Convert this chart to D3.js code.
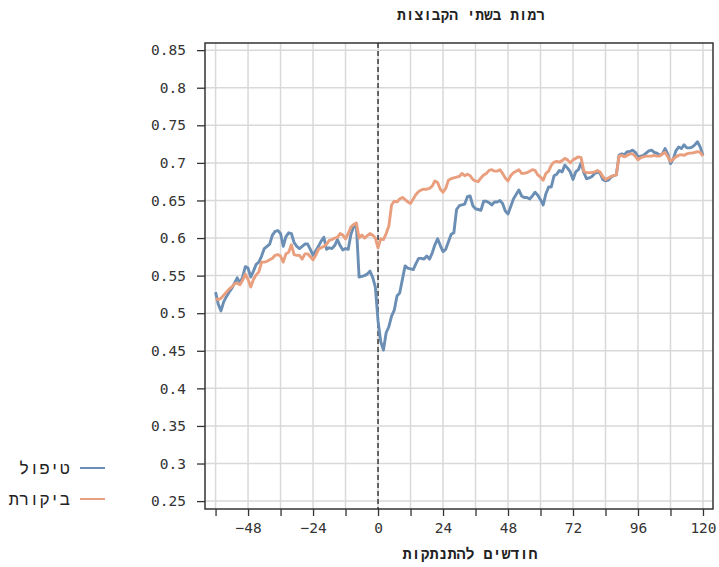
<!DOCTYPE html>
<html>
<head>
<meta charset="utf-8">
<script src="https://cdn.jsdelivr.net/npm/d3@7"></script>
<style>
  body { margin: 0; background: #fff; }
  text { font-family: "DejaVu Sans Mono", monospace; fill: #333; }
  text.heb { font-family: "Liberation Mono", "DejaVu Sans Mono", monospace; fill: #222; }
</style>
</head>
<body>
<div id="chart"></div>
<script>
// months relative to disconnection: -60 .. 120
var startMonth = -60
var treatment = [
  0.528, 0.512, 0.503, 0.515, 0.522, 0.528, 0.533, 0.540, 0.547, 0.540,
  0.548, 0.562, 0.560, 0.548, 0.556, 0.565, 0.568, 0.576, 0.586, 0.589,
  0.592, 0.604, 0.609, 0.610, 0.606, 0.589, 0.602, 0.607, 0.606, 0.594,
  0.589, 0.586, 0.589, 0.592, 0.592, 0.585, 0.577, 0.583, 0.589, 0.596,
  0.601, 0.585, 0.587, 0.586, 0.590, 0.598, 0.590, 0.584, 0.586, 0.585,
  0.605, 0.615, 0.617, 0.548, 0.549, 0.550, 0.552, 0.556, 0.548, 0.535,
  0.490, 0.462, 0.451, 0.474, 0.482, 0.496, 0.504, 0.523, 0.527, 0.545,
  0.563, 0.560, 0.559, 0.558, 0.566, 0.573, 0.573, 0.572, 0.576, 0.572,
  0.580, 0.591, 0.599, 0.590, 0.582, 0.585, 0.595, 0.605, 0.607, 0.638,
  0.643, 0.644, 0.645, 0.655, 0.656, 0.643, 0.639, 0.638, 0.637, 0.649,
  0.649, 0.647, 0.644, 0.648, 0.648, 0.650, 0.646, 0.636, 0.632, 0.642,
  0.652, 0.658, 0.664, 0.656, 0.654, 0.654, 0.652, 0.656, 0.661, 0.657,
  0.651, 0.644, 0.659, 0.668, 0.668, 0.683, 0.685, 0.690, 0.688, 0.697,
  0.693, 0.688, 0.678, 0.688, 0.691, 0.700, 0.687, 0.679, 0.680, 0.682,
  0.686, 0.688, 0.686, 0.678, 0.676, 0.677, 0.681, 0.683, 0.684, 0.710,
  0.712, 0.711, 0.715, 0.715, 0.717, 0.714, 0.708, 0.709, 0.710, 0.713,
  0.716, 0.717, 0.714, 0.713, 0.710, 0.712, 0.719, 0.712, 0.699, 0.705,
  0.716, 0.721, 0.719, 0.724, 0.720, 0.720, 0.721, 0.724, 0.728, 0.721,
  0.710
]
var control = [
  0.519, 0.518, 0.520, 0.524, 0.528, 0.532, 0.535, 0.539, 0.540, 0.538,
  0.544, 0.552, 0.545, 0.535, 0.545, 0.551, 0.555, 0.568, 0.568, 0.569,
  0.571, 0.573, 0.577, 0.578, 0.576, 0.568, 0.579, 0.581, 0.591, 0.578,
  0.577, 0.577, 0.572, 0.579, 0.579, 0.575, 0.571, 0.577, 0.585, 0.587,
  0.589, 0.592, 0.597, 0.598, 0.600, 0.601, 0.606, 0.604, 0.599, 0.606,
  0.615, 0.618, 0.620, 0.600, 0.604, 0.600, 0.603, 0.606, 0.604, 0.600,
  0.587, 0.599, 0.598, 0.606, 0.616, 0.644, 0.649, 0.648, 0.652, 0.654,
  0.651, 0.648, 0.646, 0.652, 0.658, 0.662, 0.664, 0.665, 0.665, 0.666,
  0.669, 0.676, 0.674, 0.665, 0.661, 0.666, 0.677, 0.679, 0.680, 0.681,
  0.682, 0.686, 0.683, 0.685, 0.683, 0.678, 0.676, 0.675, 0.680, 0.684,
  0.686, 0.690, 0.691, 0.689, 0.689, 0.691, 0.686, 0.680, 0.676, 0.683,
  0.687, 0.689, 0.691, 0.686, 0.686, 0.687, 0.689, 0.691, 0.690, 0.684,
  0.681, 0.677, 0.686, 0.689, 0.697, 0.701, 0.702, 0.701, 0.703, 0.706,
  0.704, 0.700, 0.704, 0.706, 0.708, 0.707, 0.689, 0.687, 0.687, 0.687,
  0.688, 0.690, 0.688, 0.682, 0.678, 0.680, 0.682, 0.683, 0.684, 0.709,
  0.710, 0.708, 0.710, 0.712, 0.712, 0.709, 0.704, 0.707, 0.708, 0.709,
  0.709, 0.709, 0.710, 0.709, 0.709, 0.712, 0.714, 0.708, 0.702, 0.705,
  0.708, 0.710, 0.711, 0.710, 0.712, 0.713, 0.713, 0.714, 0.715, 0.714,
  0.709
]
var xTicks = [-60, -48, -36, -24, -12, 0, 12, 24, 36, 48, 60, 72, 84, 96, 108, 120]
var xLabels = [-48, -24, 0, 24, 48, 72, 96, 120]
var yTicks = [0.25, 0.3, 0.35, 0.4, 0.45, 0.5, 0.55, 0.6, 0.65, 0.7, 0.75, 0.8, 0.85]
var seriesNames = ["טיפול", "ביקורת"]
var colors = ["#6b8eb5", "#e99f7e"]

var W = 719, H = 567
var pL = 205, pR = 713, pT = 43, pB = 509

var svg = d3.select("#chart").append("svg").attr("width", W).attr("height", H)

var xs = d3.scaleLinear().domain([-63.9, 123.7]).range([pL, pR])
var ys = d3.scaleLinear().domain([0.2395, 0.8595]).range([pB, pT])

// grid
svg.append("g").selectAll("line").data(xTicks).enter().append("line")
  .attr("x1", d => xs(d)).attr("x2", d => xs(d))
  .attr("y1", pT).attr("y2", pB)
  .attr("stroke", "#d9d9d9").attr("stroke-width", 1.5)
svg.append("g").selectAll("line").data(yTicks).enter().append("line")
  .attr("x1", pL).attr("x2", pR)
  .attr("y1", d => ys(d)).attr("y2", d => ys(d))
  .attr("stroke", "#d9d9d9").attr("stroke-width", 1.5)

// axes
var fmt = function (d) { return String(+d.toFixed(2)) }
var yAxis = svg.append("g").attr("transform", "translate(" + pL + ",0)")
  .call(d3.axisLeft(ys).tickValues(yTicks).tickFormat(fmt).tickSize(8).tickPadding(11))
var xAxis = svg.append("g").attr("transform", "translate(0," + pB + ")")
  .call(d3.axisBottom(xs).tickValues(xTicks)
    .tickFormat(d => xLabels.indexOf(d) >= 0 ? (d < 0 ? "−" + (-d) : d) : "")
    .tickSize(7).tickPadding(7))
;[yAxis, xAxis].forEach(function (a) {
  a.select(".domain").remove()
  a.selectAll(".tick line").attr("stroke", "#333").attr("stroke-width", 1.3)
  a.selectAll(".tick text").style("font-size", "14.5px").attr("fill", "#333")
    .style("font-family", "'DejaVu Sans Mono', monospace")
})

// frame
svg.append("rect").attr("x", pL).attr("y", pT)
  .attr("width", pR - pL).attr("height", pB - pT)
  .attr("fill", "none").attr("stroke", "#333").attr("stroke-width", 1.5)

// zero line
svg.append("line").attr("x1", xs(0)).attr("x2", xs(0)).attr("y1", pT).attr("y2", pB)
  .attr("stroke", "#222").attr("stroke-width", 1.3).attr("stroke-dasharray", "5,3")

// lines
var line = d3.line().x((d, i) => xs(startMonth + i)).y(d => ys(d))
;[treatment, control].forEach(function (s, k) {
  svg.append("path").datum(s).attr("d", line)
    .attr("fill", "none").attr("stroke", colors[k]).attr("stroke-width", 2.9)
    .attr("stroke-linejoin", "round")
})

// titles
svg.append("text").attr("class", "heb").attr("x", 471).attr("y", 20)
  .attr("text-anchor", "middle").style("font-size", "14.5px").style("font-weight", "600")
  .text("רמות בשתי הקבוצות")
svg.append("text").attr("class", "heb").attr("x", 470).attr("y", 559)
  .attr("text-anchor", "middle").style("font-size", "15px").style("font-weight", "600")
  .text("חודשים להתנתקות")

// legend
seriesNames.forEach(function (n, k) {
  var y = 468 + k * 31
  svg.append("line").attr("x1", 80).attr("x2", 105).attr("y1", y).attr("y2", y)
    .attr("stroke", colors[k]).attr("stroke-width", 2)
  svg.append("text").attr("class", "heb").attr("x", 70).attr("y", y + 6).attr("text-anchor", "end")
    .style("font-size", "17px").text(n)
})
</script>
</body>
</html>
